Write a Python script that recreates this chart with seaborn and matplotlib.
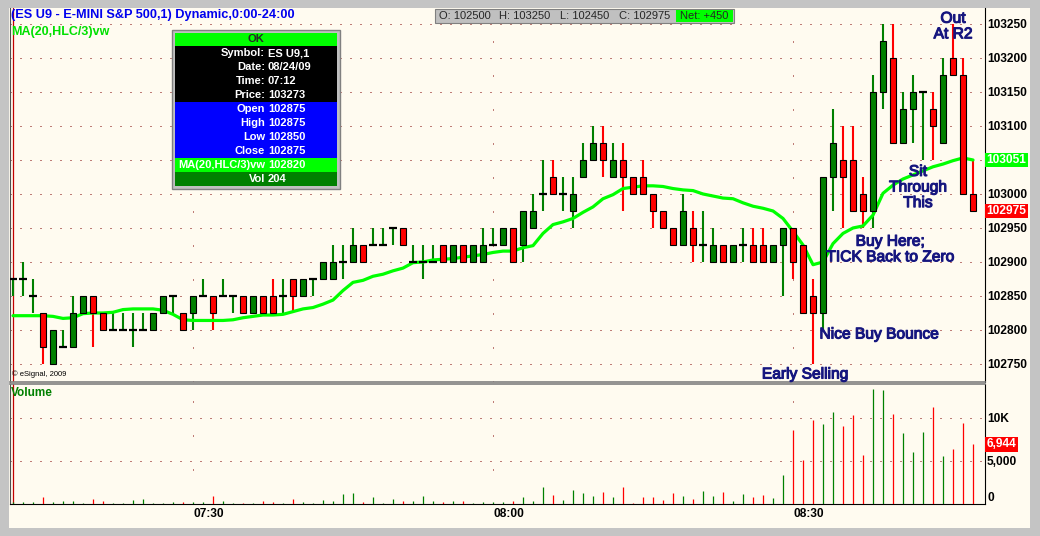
import numpy as np
import pandas as pd
import matplotlib
matplotlib.use("Agg")
import matplotlib.pyplot as plt
import matplotlib.patches as mpatches
import matplotlib.patheffects as pe
import seaborn as sns

W, H = 1040, 536

# --- data: ES U9 1-minute bars from 07:12 to 08:48 -----------------------
first_minute = 12  # minutes after 07:00
opens = [102875, 102875, 102850, 102825, 102750, 102775, 102775, 102825, 102850, 102825,
         102800, 102800, 102800, 102800, 102800, 102825, 102850, 102825, 102825, 102850,
         102850, 102850, 102850, 102850, 102825, 102850, 102850, 102850, 102875, 102850,
         102875, 102875, 102875, 102900, 102900, 102925, 102925, 102925, 102950, 102950,
         102900, 102900, 102900, 102925, 102900, 102925, 102900, 102900, 102925, 102925,
         102950, 102925, 102950, 103000, 103025, 103000, 102975, 103025, 103050, 103075,
         103025, 103050, 103025, 103025, 103000, 102975, 102950, 102925, 102950, 102925,
         102900, 102925, 102900, 102925, 102925, 102925, 102900, 102925, 102950, 102925,
         102850, 102825, 103025, 103050, 103050, 103000, 102975, 103150, 103200, 103075,
         103125, 103150, 103125, 103075, 103200, 103175, 103000]
highs = [102875, 102900, 102875, 102825, 102800, 102800, 102850, 102850, 102850, 102825,
         102825, 102825, 102825, 102825, 102825, 102850, 102850, 102825, 102850, 102875,
         102850, 102875, 102850, 102850, 102850, 102850, 102875, 102875, 102875, 102875,
         102875, 102900, 102925, 102925, 102950, 102925, 102950, 102950, 102950, 102950,
         102925, 102925, 102925, 102925, 102925, 102925, 102925, 102950, 102950, 102950,
         102950, 102975, 103000, 103050, 103050, 103025, 103025, 103075, 103100, 103100,
         103075, 103075, 103025, 103050, 103000, 102975, 102950, 103000, 102975, 102975,
         102950, 102925, 102925, 102950, 102950, 102950, 102925, 102950, 102950, 102925,
         102875, 103025, 103125, 103100, 103100, 103025, 103175, 103250, 103250, 103150,
         103175, 103150, 103150, 103200, 103250, 103200, 103050]
lows = [102850, 102850, 102825, 102750, 102750, 102775, 102775, 102825, 102775, 102800,
        102800, 102800, 102775, 102800, 102800, 102825, 102825, 102800, 102800, 102850,
        102800, 102850, 102825, 102825, 102825, 102825, 102825, 102825, 102825, 102850,
        102850, 102875, 102875, 102875, 102900, 102900, 102925, 102925, 102925, 102925,
        102900, 102875, 102900, 102900, 102900, 102900, 102900, 102900, 102925, 102925,
        102900, 102900, 102950, 102975, 103000, 102975, 102950, 103025, 103050, 103025,
        103025, 102975, 103000, 103000, 102950, 102950, 102925, 102925, 102900, 102900,
        102900, 102900, 102900, 102900, 102900, 102900, 102900, 102850, 102875, 102825,
        102750, 102800, 102975, 102950, 102975, 102950, 102950, 103125, 103075, 103075,
        103075, 103050, 103050, 103075, 103175, 103000, 102975]
closes = [102875, 102875, 102850, 102775, 102800, 102775, 102825, 102850, 102825, 102800,
          102800, 102800, 102800, 102800, 102825, 102850, 102850, 102800, 102850, 102850,
          102825, 102850, 102850, 102825, 102850, 102825, 102825, 102850, 102850, 102875,
          102875, 102900, 102900, 102900, 102925, 102900, 102925, 102925, 102950, 102925,
          102900, 102900, 102900, 102900, 102925, 102900, 102925, 102925, 102925, 102950,
          102900, 102975, 102975, 103000, 103000, 103000, 103000, 103050, 103075, 103050,
          103050, 103025, 103000, 103000, 102975, 102950, 102925, 102975, 102925, 102925,
          102925, 102900, 102925, 102925, 102900, 102900, 102925, 102950, 102900, 102825,
          102825, 103025, 103075, 103025, 102975, 102975, 103150, 103225, 103075, 103125,
          103150, 103150, 103100, 103175, 103175, 103000, 102975]
ma_hlc3_vw = [102821, 102821, 102821, 102821, 102820, 102817, 102818, 102824, 102825, 102825,
              102826, 102830, 102831, 102831, 102831, 102829, 102823, 102815, 102814, 102814,
              102814, 102814, 102815, 102818, 102820, 102822, 102822, 102823, 102827, 102831,
              102833, 102838, 102844, 102858, 102870, 102873, 102879, 102882, 102887, 102891,
              102899, 102900, 102903, 102904, 102905, 102907, 102909, 102911, 102914, 102916,
              102916, 102921, 102924, 102942, 102955, 102959, 102964, 102973, 102981, 102993,
              102999, 103008, 103010, 103012, 103012, 103011, 103008, 103006, 103005, 103000,
              102997, 102994, 102993, 102987, 102982, 102979, 102975, 102964, 102945, 102925,
              102896, 102900, 102927, 102942, 102950, 102953, 102969, 103001, 103013, 103022,
              103028, 103034, 103040, 103044, 103049, 103053, 103050]
volumes = [204, 230, 230, 820, 230, 350, 350, 120, 590, 350,
           120, 120, 470, 590, 120, 120, 230, 230, 230, 230,
           940, 350, 120, 120, 120, 350, 230, 120, 590, 230,
           120, 470, 350, 1170, 1290, 230, 820, 120, 590, 350,
           350, 940, 350, 230, 350, 350, 120, 230, 230, 230,
           350, 820, 350, 1990, 1050, 470, 1640, 1290, 940, 1400,
           820, 1990, 120, 820, 820, 470, 1290, 940, 590, 1520,
           940, 1400, 350, 1170, 820, 1050, 700, 3400, 8550, 5150,
           9730, 9250, 10660, 9020, 10310, 5740, 13360, 13240, 10430, 8200,
           6090, 8320, 11250, 5620, 6440, 9380, 6944]

price_ticks = list(range(102750, 103251, 50))
time_ticks = [30, 60, 90]
time_labels = ["07:30", "08:00", "08:30"]
vol_ticks = [0, 5000, 10000]
vol_labels = ["0", "5,000", "10K"]

title_text = "(ES U9 - E-MINI S&P 500,1) Dynamic,0:00-24:00"
ma_text = "MA(20,HLC/3)vw"
header_cells = ["O: 102500", "H: 103250", "L: 102450", "C: 102975"]
net_text = "Net: +450"
tip_info = [("Symbol:", "ES U9,1"), ("Date:", "08/24/09"), ("Time:", "07:12"), ("Price:", "103273")]
tip_ohlc = [("Open", "102875"), ("High", "102875"), ("Low", "102850"), ("Close", "102875")]
tip_ma = ("MA(20,HLC/3)vw", "102820")
tip_vol = ("Vol", "204")
last_ma_label = "103051"
last_close_label = "102975"
last_vol_label = "6,944"

notes = [("Out\nAt R2", 953, 26), ("Sit\nThrough\nThis", 918, 187),
         ("Buy Here;\nTICK Back to Zero", 890, 249), ("Nice Buy Bounce", 879, 334),
         ("Early Selling", 805, 374)]

CREAM = "#fffbf0"
GREEN = "#008000"
RED = "#ff0000"
LIME = "#00ff00"
NAVY = "#16167f"
GRID = "#800000"

sns.set_theme(style="white")
plt.rcParams["font.family"] = ["Liberation Sans", "DejaVu Sans"]

df = pd.DataFrame({"open": opens, "high": highs, "low": lows, "close": closes,
                   "ma": ma_hlc3_vw, "vol": volumes})
df["minute"] = first_minute + np.arange(len(df))
df["color"] = np.where(df["close"] < df["open"], RED, GREEN)


def fx(x, y):
    return x / W, 1 - y / H


def rect(fig, x0, y0, x1, y1, fc, ec="none", lw=0, z=1):
    fig.add_artist(mpatches.Rectangle(fx(x0, y1), (x1 - x0) / W, (y1 - y0) / H,
                                      transform=fig.transFigure, facecolor=fc,
                                      edgecolor=ec, linewidth=lw, zorder=z))


fig = plt.figure(figsize=(W / 100, H / 100), dpi=100, facecolor="#c4c4c4")
rect(fig, 9, 8, 1030, 528, CREAM, z=0)

ax = fig.add_axes([10 / W, 1 - 382 / H, 975 / W, 374 / H])
ax2 = fig.add_axes([10 / W, 1 - 504 / H, 975 / W, 120 / H])
xlim = (first_minute - 0.3, first_minute + 97.2)

for a in (ax, ax2):
    a.set_facecolor(CREAM)
    a.set_xlim(*xlim)
    for v in time_ticks:
        a.axvline(v, color=GRID, lw=0.72, linestyle=(0, (1, 33)), zorder=1)
    a.axvline(df["minute"].iloc[0], color="#c00000", lw=0.9, zorder=2)

# --- price panel ---------------------------------------------------------
ax.set_ylim(102723.5, 103273.5)
for p in price_ticks:
    ax.axhline(p, color=GRID, lw=0.72, linestyle=(0, (1, 9)), zorder=1)

ax.vlines(df["minute"], df["low"], df["high"], colors=df["color"], lw=1.5, zorder=3)
sns.lineplot(x=df["minute"].to_numpy(), y=df["ma"].to_numpy(), ax=ax, color=LIME,
             linewidth=2.3, zorder=3.5)
body = df[df["close"] != df["open"]]
ax.bar(body["minute"], body["close"] - body["open"], bottom=body["open"], width=0.62,
       color=body["color"], edgecolor="black", linewidth=0.8, zorder=4)
doji = df[df["close"] == df["open"]]
ax.hlines(doji["open"], doji["minute"] - 0.36, doji["minute"] + 0.36, colors="black",
          lw=1.6, zorder=4)

ax.yaxis.tick_right()
ax.set_yticks(price_ticks)
ax.set_xticks([])
ax.tick_params(axis="y", length=0, pad=1.5, labelsize=8.6, colors="black")
for lab in ax.get_yticklabels():
    lab.set_fontweight("bold")
ax.set_xlabel("")
ax.set_ylabel("")

ytr = ax.get_yaxis_transform()
ax.text(1.0015, df["ma"].iloc[-1], last_ma_label, transform=ytr, ha="left", va="center",
        color="white", fontsize=8.6, fontweight="bold", zorder=10,
        bbox=dict(boxstyle="square,pad=0.12", fc=LIME, ec="none"))
ax.text(1.0015, df["close"].iloc[-1], last_close_label, transform=ytr, ha="left",
        va="center", color="white", fontsize=8.6, fontweight="bold", zorder=10,
        bbox=dict(boxstyle="square,pad=0.12", fc=RED, ec="none"))

# --- volume panel --------------------------------------------------------
ax2.set_ylim(0, 13950)
for v in vol_ticks[1:]:
    ax2.axhline(v, color=GRID, lw=0.72, linestyle=(0, (1, 9)), zorder=1)
ax2.vlines(df["minute"], 0, df["vol"], colors=df["color"], lw=0.9, zorder=3)
ax2.yaxis.tick_right()
ax2.set_yticks(vol_ticks, vol_labels)
ax2.tick_params(axis="y", length=0, pad=1.5, labelsize=8.6, colors="black")
ax2.set_xticks(time_ticks, time_labels, ha="left")
ax2.tick_params(axis="x", length=0, pad=3, labelsize=8.6, colors="black")
for lab in ax2.get_yticklabels() + ax2.get_xticklabels():
    lab.set_fontweight("bold")
ax2.get_yticklabels()[0].set_va("bottom")
ax2.text(1.0015, df["vol"].iloc[-1], last_vol_label, transform=ax2.get_yaxis_transform(),
         ha="left", va="center", color="white", fontsize=8.6, fontweight="bold", zorder=10,
         bbox=dict(boxstyle="square,pad=0.12", fc=RED, ec="none"))

for a, top, bottom in ((ax, None, "#808080"), (ax2, "#808080", "black")):
    a.spines["left"].set_color("#505050")
    a.spines["right"].set_color("black")
    a.spines["left"].set_linewidth(0.8)
    a.spines["right"].set_linewidth(0.8)
    if top is None:
        a.spines["top"].set_visible(False)
    else:
        a.spines["top"].set_color(top)
        a.spines["top"].set_linewidth(1.2)
    a.spines["bottom"].set_color(bottom)
    a.spines["bottom"].set_linewidth(1.2 if a is ax else 0.8)

# --- texts ---------------------------------------------------------------
fig.text(*fx(11, 15), title_text, color="#0000ee", fontsize=9.2, fontweight="bold",
         ha="left", va="center")
fig.text(*fx(11, 32), ma_text, color="#00e000", fontsize=9, fontweight="bold",
         ha="left", va="center")
fig.text(*fx(11, 393), "Volume", color=GREEN, fontsize=8.5, fontweight="bold",
         ha="left", va="center")
fig.text(*fx(12, 374), "\u00a9 eSignal, 2009", color="black", fontsize=5.5,
         ha="left", va="center")

thick = [pe.withStroke(linewidth=0.8, foreground=NAVY)]
for txt, x, y in notes:
    fig.text(*fx(x, y), txt, color=NAVY, fontsize=11.2, ha="center", va="center",
             linespacing=1.05, path_effects=thick)

# header OHLC strip
rect(fig, 435, 9, 734, 23, "#c0c0c0", ec="#808080", lw=0.8, z=5)
rect(fig, 676, 10, 733, 22, LIME, z=6)
for txt, cx in zip(header_cells, [465, 525, 585, 645]):
    fig.text(*fx(cx, 16), txt, fontsize=8, ha="center", va="center", zorder=7)
fig.text(*fx(704, 16), net_text, fontsize=8, ha="center", va="center", zorder=7)

# data window box
rect(fig, 172, 30, 340, 189, "#c0c0c0", ec="#808080", lw=1, z=5)
rect(fig, 175, 33, 337, 46, LIME, z=6)
rect(fig, 175, 46, 337, 102, "black", z=6)
rect(fig, 175, 102, 337, 158, "#0000ff", z=6)
rect(fig, 175, 158, 337, 172, LIME, z=6)
rect(fig, 175, 172, 337, 186, GREEN, z=6)
fig.text(*fx(256, 39.5), "OK", fontsize=8, fontweight="bold", ha="center", va="center",
         zorder=7)
rows = tip_info + tip_ohlc + [tip_ma, tip_vol]
for k, (lab, val) in enumerate(rows):
    y = 53 + 14 * k
    fig.text(*fx(265, y), lab, color="white", fontsize=8, fontweight="bold",
             ha="right", va="center", zorder=7)
    fig.text(*fx(268, y), val, color="white", fontsize=8, fontweight="bold",
             ha="left", va="center", zorder=7)

fig.savefig("out.png", dpi=100, facecolor=fig.get_facecolor())
